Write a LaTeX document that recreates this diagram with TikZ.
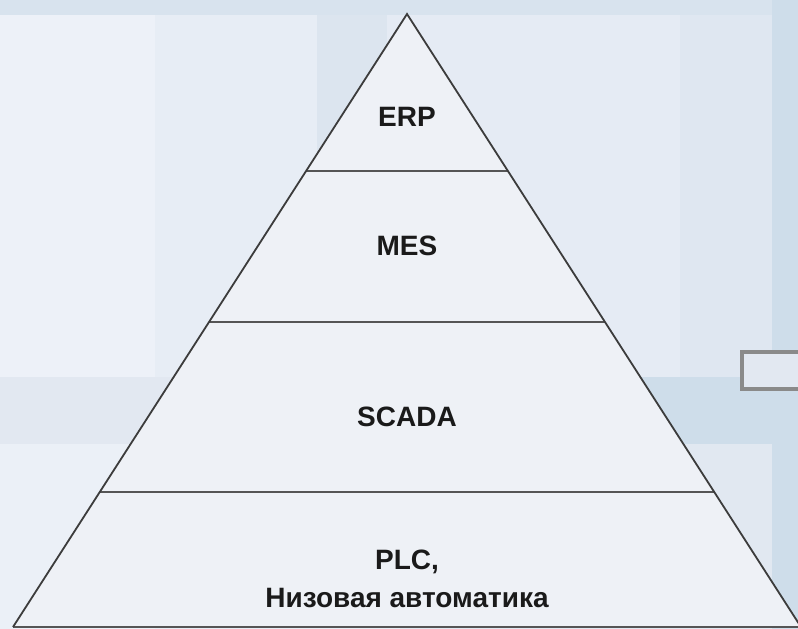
\documentclass[tikz,border=0pt]{standalone}
\usepackage{fontspec}
\setmainfont{Liberation Sans}
\definecolor{topstrip}{HTML}{D8E3EE}
\definecolor{panelLa}{HTML}{EDF1F8}
\definecolor{panelLb}{HTML}{E7EDF5}
\definecolor{midblue}{HTML}{DCE5EF}
\definecolor{panelM}{HTML}{E5EBF4}
\definecolor{panelR}{HTML}{DFE7F1}
\definecolor{rightblue}{HTML}{CEDDEA}
\definecolor{gapL}{HTML}{E2E8F1}
\definecolor{lowL}{HTML}{EBF0F7}
\definecolor{lowR}{HTML}{E1E8F1}
\definecolor{pyrfill}{HTML}{EEF1F6}
\definecolor{edgecol}{HTML}{3C3C3C}
\definecolor{layercol}{HTML}{555555}
\definecolor{boxcol}{HTML}{8A8A8A}
\definecolor{txtcol}{HTML}{1A1A1A}
\tikzset{
  lbl/.style={font=\fontsize{28}{37}\selectfont\bfseries, text=txtcol, inner sep=0pt},
  pyredge/.style={draw=edgecol, line width=1.8pt, line join=miter},
  layerline/.style={draw=layercol, line width=2.4pt},
  sidebox/.style={draw=boxcol, fill=gapL, line width=3.2pt}
}
\begin{document}
\begin{tikzpicture}[x=1pt,y=-1pt]
\useasboundingbox (0,0) rectangle (798,629);
\clip (0,0) rectangle (798,629);
% background
\fill[rightblue] (0,0) rectangle (798,629);
\fill[topstrip] (0,0) rectangle (772,15);
\fill[panelLa] (0,15) rectangle (155,377);
\fill[panelLb] (155,15) rectangle (317,377);
\fill[midblue] (317,15) rectangle (387,377);
\fill[panelM] (387,15) rectangle (680,377);
\fill[panelR] (680,15) rectangle (772,377);
\fill[gapL] (0,377) rectangle (400,444);
\fill[lowL] (0,444) rectangle (155,629);
\fill[panelLb] (155,444) rectangle (400,629);
\fill[lowR] (400,444) rectangle (772,629);
% side box
\draw[sidebox] (742,352) rectangle (812,389);
% pyramid
\coordinate (apex) at (407,14);
\coordinate (bl) at (13,627);
\coordinate (br) at (801,627);
\fill[pyrfill] (apex) -- (bl) -- (br) -- cycle;
\coordinate (l1) at (306,171); \coordinate (r1) at (508,171);
\coordinate (l2) at (209,322); \coordinate (r2) at (605,322);
\coordinate (l3) at (100,492); \coordinate (r3) at (714,492);
\draw[layerline] (l1) -- (r1);
\draw[layerline] (l2) -- (r2);
\draw[layerline] (l3) -- (r3);
\draw[layerline] (bl) -- (br);
\draw[pyredge] (bl) -- (apex) -- (br);
% labels
\node[lbl] (erp) at (407,116.5) {ERP};
\node[lbl] (mes) at (407,246) {MES};
\node[lbl] (scada) at (407,417) {SCADA};
\node[lbl, anchor=base] (plc) at (407,569) {PLC,};
\node[lbl, anchor=base] (low) at (407,607) {Низовая автоматика};
\end{tikzpicture}
\end{document}
